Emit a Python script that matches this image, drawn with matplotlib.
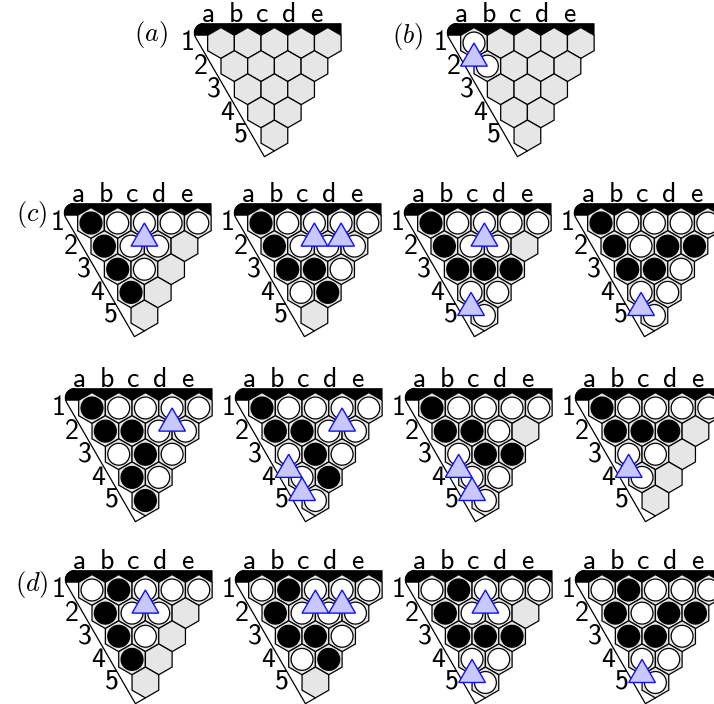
import numpy as np
import matplotlib
matplotlib.use('Agg')
import matplotlib.pyplot as plt
from matplotlib.patches import Polygon, Circle

plt.rcParams['mathtext.fontset'] = 'cm'

# ---------------- data ----------------
COL_LABELS = ['a', 'b', 'c', 'd', 'e']
ROW_LABELS = ['1', '2', '3', '4', '5']
PANEL_LABELS = ['(a)', '(b)', '(c)', '(d)']

# board states: one string per row, 'B' black stone, 'W' white stone, '.' empty
board_a = ['.....', '....', '...', '..', '.']
board_b = ['W....', 'W...', '...', '..', '.']
board_c1 = ['BWWWW', 'BWW.', 'BW.', 'B.', '.']
board_c2 = ['BWWWW', 'BWWW', 'BBW', 'WB', '.']
board_c3 = ['BWWWW', 'BWW.', 'BBB', 'WW', 'W']
board_c4 = ['BWWWW', 'BWBB', 'BBW', 'WW', 'W']
board_c5 = ['BWWWW', 'BBWW', 'WBW', 'BW', 'B']
board_c6 = ['BWWWW', 'BBWW', 'WBW', 'WB', 'W']
board_c7 = ['BWWWW', 'BBW.', 'WBB', 'WW', 'W']
board_c8 = ['BWWWW', 'BBB.', 'WW.', 'W.', '.']
board_d1 = ['WBWWW', 'BWW.', 'BW.', 'B.', '.']
board_d2 = ['WBWWW', 'BWWW', 'BBW', 'WB', '.']
board_d3 = ['WBWWW', 'BWW.', 'BBB', 'WW', 'W']
board_d4 = ['WBWWW', 'BWBB', 'BBW', 'WW', 'W']

# triangle markers: (row index, cell index) of apex cell
tri_a = []
tri_b = [(0, 0)]
tri_c1 = [(0, 2)]
tri_c2 = [(0, 2), (0, 3)]
tri_c3 = [(0, 2), (3, 0)]
tri_c4 = [(3, 0)]
tri_c5 = [(0, 3)]
tri_c6 = [(0, 3), (2, 0), (3, 0)]
tri_c7 = [(2, 0), (3, 0)]
tri_c8 = [(2, 0)]
tri_d1 = [(0, 2)]
tri_d2 = [(0, 2), (0, 3)]
tri_d3 = [(0, 2), (3, 0)]
tri_d4 = [(3, 0)]

# ---------------- layout ----------------
W = 26.7                 # hex width in pixels
S3 = np.sqrt(3.0)
R = 1.0 / S3             # hex circumradius (board units)
DY = 1.5 * R             # row spacing (board units)

board_list = [
    (board_a, tri_a, 221, 43),
    (board_b, tri_b, 474, 43),
    (board_c1, tri_c1, 91, 223), (board_c2, tri_c2, 261, 223),
    (board_c3, tri_c3, 431, 223), (board_c4, tri_c4, 601, 223),
    (board_c5, tri_c5, 92, 408), (board_c6, tri_c6, 262, 408),
    (board_c7, tri_c7, 432, 408), (board_c8, tri_c8, 602, 408),
    (board_d1, tri_d1, 92, 590), (board_d2, tri_d2, 262, 590),
    (board_d3, tri_d3, 432, 590), (board_d4, tri_d4, 602, 590),
]
panel_pos = [(151, 34), (408, 36), (32, 215), (32, 584)]

HEX_FACE = '#e6e6e6'
TRI_FACE = '#c8c8ff'
TRI_EDGE = '#1010ff'
LW = 0.9
FS = 20
FS_PANEL = 19
LABEL_FONT = 'cmss10'

fig = plt.figure(figsize=(7.14, 7.04), dpi=100)
ax = fig.add_axes([0, 0, 1, 1])
ax.set_xlim(0, 714)
ax.set_ylim(704, 0)
ax.axis('off')

RF = 0.35


def outline_points():
    T = 0.73
    d = 0.72
    n = np.array([-S3 / 2, -0.5])
    C = np.array([-(d + 0.5 * T) / (S3 / 2), T])
    L = RF * S3
    P1 = C + np.array([L, 0.0])
    ctr = np.array([P1[0], T - RF])
    th = np.radians(np.linspace(90, 210, 40))
    arc = np.column_stack([ctr[0] + RF * np.cos(th), ctr[1] + RF * np.sin(th)])
    hbot = np.array([2.0, -4 * DY - R])
    s = d - n.dot(hbot)
    B = hbot + s * n
    return T, arc, B, hbot


def draw_board(state, tris, ox, oy):
    def px(u, v):
        return ox + u * W, oy - v * W

    T, arc, B, hbot = outline_points()
    h = R / 2
    # black top region
    pts = [(4.5, T)]
    for p in arc:
        if p[1] >= h:
            pts.append(tuple(p))
    ctr_v = T - RF
    ang = np.arcsin((h - ctr_v) / RF)
    qu = arc[0][0] - RF * np.cos(ang)
    pts.append((qu, h))
    for k in range(5):
        pts.append((k - 0.5, h))
        pts.append((k, R))
    pts.append((4.5, h))
    ax.add_patch(Polygon([px(u, v) for u, v in pts], closed=True,
                         facecolor='black', edgecolor='black', lw=0.5, zorder=1))
    # left outline
    line = [tuple(p) for p in arc] + [tuple(B), tuple(hbot)]
    xs, ys = zip(*[px(u, v) for u, v in line])
    ax.plot(xs, ys, color='black', lw=0.9, zorder=2, solid_capstyle='round')

    ang6 = np.radians([30, 90, 150, 210, 270, 330])
    for r, rowstr in enumerate(state):
        for k, ch in enumerate(rowstr):
            u = k + 0.5 * r
            v = -r * DY
            verts = [px(u + R * np.cos(a), v + R * np.sin(a)) for a in ang6]
            ax.add_patch(Polygon(verts, closed=True, facecolor=HEX_FACE,
                                 edgecolor='black', lw=LW, zorder=3))
            cx, cy = px(u, v)
            if ch == 'B':
                ax.add_patch(Circle((cx, cy), 0.41 * W, facecolor='black',
                                    edgecolor='black', lw=LW, zorder=4))
            elif ch == 'W':
                ax.add_patch(Circle((cx, cy), 0.41 * W, facecolor='white',
                                    edgecolor='black', lw=LW, zorder=4))
    for (r, k) in tris:
        u = k + 0.5 * r
        v = -r * DY
        verts = [px(u, v), px(u - 0.5, v - DY), px(u + 0.5, v - DY)]
        ax.add_patch(Polygon(verts, closed=True, facecolor=TRI_FACE,
                             edgecolor=TRI_EDGE, lw=1.0, zorder=5))
    # labels
    for k, lab in enumerate(COL_LABELS):
        x, y = px(k - 0.45, 0.8)
        ax.text(x, y, lab, ha='center', va='baseline', family=LABEL_FONT,
                fontsize=FS, zorder=6)
    for r, lab in enumerate(ROW_LABELS):
        x, y = px(0.5 * r - 1.26, -r * DY - 0.28)
        ax.text(x, y, lab, ha='center', va='baseline', family=LABEL_FONT,
                fontsize=FS, zorder=6)


for state, tris, ox, oy in board_list:
    draw_board(state, tris, ox, oy)

for lab, (x, y) in zip(PANEL_LABELS, panel_pos):
    ax.text(x, y, '$' + lab + '$', ha='center', va='center', fontsize=FS_PANEL)

fig.savefig('out.png', dpi=100)
